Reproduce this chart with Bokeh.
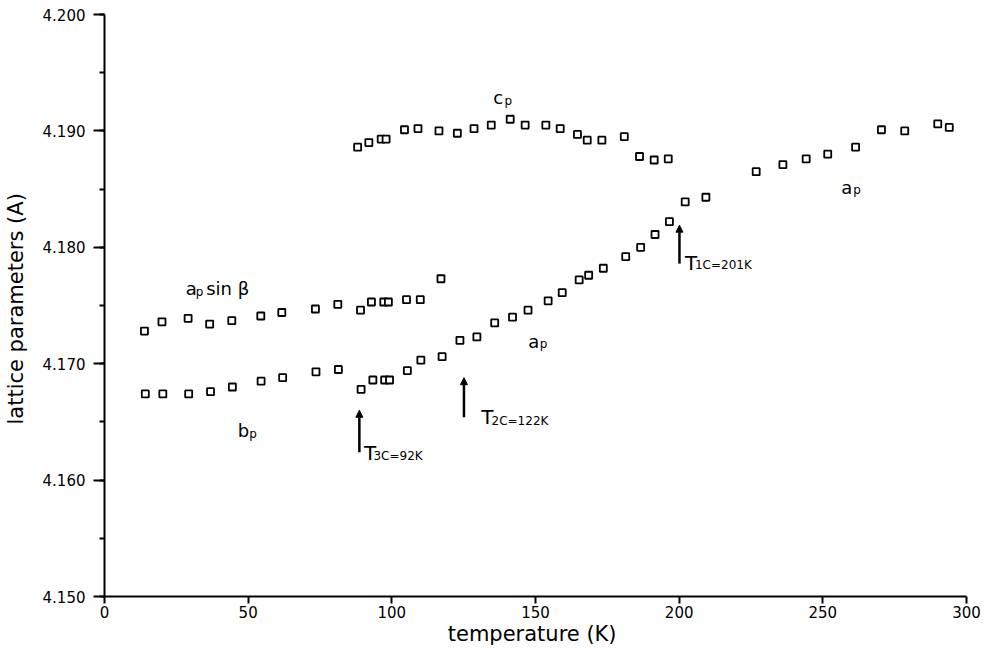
from bokeh.plotting import figure
from bokeh.models import (Range1d, SingleIntervalTicker, PrintfTickFormatter,
                          Label, Arrow, NormalHead, ColumnDataSource)
from bokeh.embed import file_html
from bokeh.resources import INLINE

FONT = "DejaVu Sans"

# ---- data ----
apsinb_T = [13.9, 20.0, 29.1, 36.6, 44.3, 54.4, 61.7, 73.4, 81.2, 89.1, 92.9, 97.2, 98.8, 105.1, 109.9, 117.1]
apsinb_v = [4.1728, 4.1736, 4.1739, 4.1734, 4.1737, 4.1741, 4.1744, 4.1747, 4.1751, 4.1746, 4.1753, 4.1753,
            4.1753, 4.1755, 4.1755, 4.1773]

bp_T = [14.2, 20.3, 29.3, 36.9, 44.5, 54.5, 62.0, 73.6, 81.4, 89.3, 93.4, 97.5, 99.2]
bp_v = [4.1674, 4.1674, 4.1674, 4.1676, 4.1680, 4.1685, 4.1688, 4.1693, 4.1695, 4.1678, 4.1686, 4.1686, 4.1686]

ap_T = [105.4, 110.1, 117.5, 123.7, 129.6, 135.8, 142.0, 147.4, 154.4, 159.3, 165.2, 168.5, 173.6, 181.4,
        186.6, 191.6, 196.6, 202.1, 209.3, 226.8, 236.1, 244.2, 251.7, 261.4, 270.4, 278.5, 290.0, 294.0]
ap_v = [4.1694, 4.1703, 4.1706, 4.1720, 4.1723, 4.1735, 4.1740, 4.1746, 4.1754, 4.1761, 4.1772, 4.1776,
        4.1782, 4.1792, 4.1800, 4.1811, 4.1822, 4.1839, 4.1843, 4.1865, 4.1871, 4.1876, 4.1880, 4.1886,
        4.1901, 4.1900, 4.1906, 4.1903]

cp_T = [88.1, 92.0, 96.3, 98.0, 104.4, 109.1, 116.4, 122.8, 128.6, 134.6, 141.2, 146.4, 153.6, 158.6,
        164.6, 168.0, 173.1, 180.9, 186.2, 191.3, 196.2]
cp_v = [4.1886, 4.1890, 4.1893, 4.1893, 4.1901, 4.1902, 4.1900, 4.1898, 4.1902, 4.1905, 4.1910, 4.1905,
        4.1905, 4.1902, 4.1897, 4.1892, 4.1892, 4.1895, 4.1878, 4.1875, 4.1876]

# transitions (arrows)
trans_T = [88.7, 125.1, 200.1]
trans_lo = [4.1624, 4.1654, 4.1786]
trans_hi = [4.1660, 4.1688, 4.1819]
trans_sub = ["3C=92K", "2C=122K", "1C=201K"]

x_ticks = [0, 50, 100, 150, 200, 250, 300]

# ---- figure ----
p = figure(width=983, height=648, output_backend="svg", toolbar_location=None,
           x_range=Range1d(0, 300), y_range=Range1d(4.150, 4.200),
           min_border_left=104, min_border_right=17, min_border_top=14, min_border_bottom=52)
p.outline_line_color = None
p.grid.visible = False
p.background_fill_color = "white"
p.border_fill_color = "white"

p.xaxis.ticker = x_ticks
p.xaxis.axis_label = "temperature  (K)"
p.xaxis.minor_tick_line_color = None
p.xaxis.major_tick_out = 7
p.xaxis.major_tick_in = 0
p.xaxis.major_label_standoff = 2
p.xaxis.axis_label_standoff = 1

p.yaxis.ticker = SingleIntervalTicker(interval=0.01, num_minor_ticks=2)
p.yaxis.formatter = PrintfTickFormatter(format="%.3f")
p.yaxis.axis_label = "lattice parameters  (A)"
p.yaxis.major_tick_out = 11
p.yaxis.major_tick_in = 0
p.yaxis.minor_tick_out = 5
p.yaxis.minor_tick_in = 0
p.yaxis.major_label_standoff = 8
p.yaxis.axis_label_standoff = 12

for ax in (p.xaxis, p.yaxis):
    ax.axis_line_width = 2
    ax.axis_line_color = "black"
    ax.major_tick_line_width = 2
    ax.major_tick_line_color = "black"
    ax.minor_tick_line_width = 2
    ax.minor_tick_line_color = "black"
    ax.major_label_text_font = FONT
    ax.major_label_text_font_size = "15px"
    ax.major_label_text_color = "black"
    ax.axis_label_text_font = FONT
    ax.axis_label_text_font_size = "21px"
    ax.axis_label_text_font_style = "normal"
    ax.axis_label_text_color = "black"

mk = dict(marker="square", size=7, fill_color="white", line_color="black", line_width=1.8)
p.scatter(apsinb_T, apsinb_v, **mk)
p.scatter(bp_T, bp_v, **mk)
p.scatter(ap_T, ap_v, **mk)
p.scatter(cp_T, cp_v, **mk)

# transition arrows
src = ColumnDataSource(dict(x=trans_T, lo=trans_lo, hi=trans_hi))
p.add_layout(Arrow(x_start="x", y_start="lo", x_end="x", y_end="hi", source=src,
                   line_width=2.5, line_color="black",
                   end=NormalHead(size=7, fill_color="black", line_color="black", line_width=1)))

def txt(x, y, s, size):
    p.add_layout(Label(x=x, y=y, text=s, text_font=FONT, text_font_size=size,
                       text_color="black", text_baseline="alphabetic", text_align="left"))

# transition labels
t_pos = [(90.3, 4.16237, 93.6, 4.16211), (131.1, 4.16538, 134.7, 4.16512), (202.0, 4.17869, 205.5, 4.17844)]
for (tx, ty, sx, sy), sub in zip(t_pos, trans_sub):
    txt(tx, ty, "T", "20px")
    txt(sx, sy, sub, "12px")

# curve labels
txt(135.3, 4.19287, "c", "18px"); txt(139.2, 4.19255, "p", "12px")
txt(256.4, 4.18514, "a", "18px"); txt(260.6, 4.18490, "p", "12px")
txt(147.5, 4.17191, "a", "18px"); txt(151.5, 4.17165, "p", "12px")
txt(28.3, 4.17646, "a", "18px"); txt(31.8, 4.17620, "p", "12px"); txt(35.4, 4.17646, "sin β", "18px")
txt(46.4, 4.16426, "b", "18px"); txt(50.4, 4.16398, "p", "12px")

open("out.html", "w").write(file_html(p, INLINE))
